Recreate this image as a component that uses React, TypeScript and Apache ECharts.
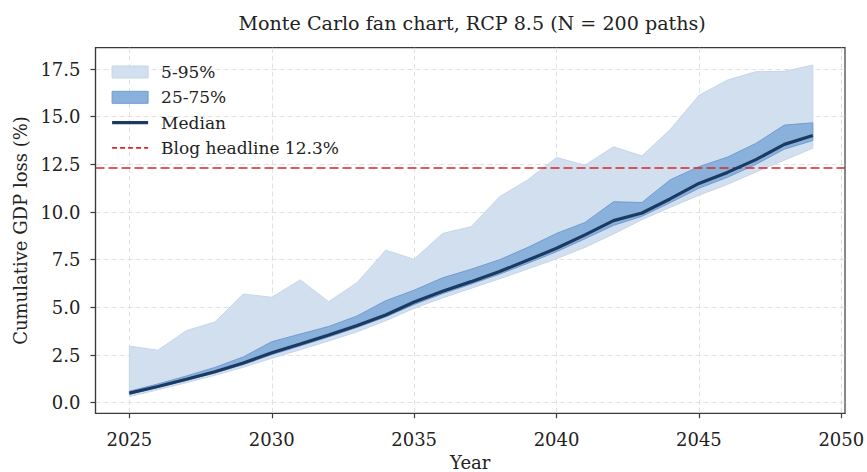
import React, { useEffect, useRef } from "react";
import * as echarts from "echarts";

const years = [2025, 2026, 2027, 2028, 2029, 2030, 2031, 2032, 2033, 2034, 2035, 2036, 2037, 2038, 2039, 2040, 2041, 2042, 2043, 2044, 2045, 2046, 2047, 2048, 2049];
const p5 = [0.32, 0.68, 1.05, 1.44, 1.86, 2.33, 2.78, 3.24, 3.72, 4.3, 4.95, 5.5, 6.0, 6.5, 7.02, 7.55, 8.15, 8.85, 9.6, 10.25, 10.88, 11.45, 12.1, 12.72, 13.35];
const p25 = [0.45, 0.8, 1.17, 1.56, 2.0, 2.52, 2.98, 3.45, 3.95, 4.5, 5.15, 5.72, 6.22, 6.74, 7.32, 7.92, 8.6, 9.3, 9.78, 10.5, 11.25, 11.82, 12.5, 13.3, 13.75];
const median = [0.5, 0.85, 1.23, 1.62, 2.08, 2.62, 3.08, 3.55, 4.05, 4.6, 5.28, 5.85, 6.35, 6.88, 7.48, 8.1, 8.8, 9.55, 9.95, 10.7, 11.5, 12.08, 12.75, 13.55, 14.02];
const p75 = [0.6, 0.98, 1.4, 1.85, 2.4, 3.2, 3.6, 4.0, 4.55, 5.35, 5.9, 6.55, 7.0, 7.5, 8.15, 8.88, 9.45, 10.54, 10.5, 11.7, 12.38, 12.88, 13.6, 14.56, 14.68];
const p95 = [2.97, 2.75, 3.78, 4.23, 5.7, 5.53, 6.44, 5.3, 6.3, 8.0, 7.52, 8.88, 9.23, 10.8, 11.7, 12.86, 12.46, 13.42, 12.94, 14.34, 16.12, 16.92, 17.36, 17.38, 17.71];
const headline = 12.3;
const xTicks = [2025, 2030, 2035, 2040, 2045, 2050];
const yTicks = [0, 2.5, 5, 7.5, 10, 12.5, 15, 17.5];

const FONT = "DejaVu Serif";
const LIGHT = "#d2dfef";
const LIGHT_EDGE = "#c5d6ea";
const DARK = "#8ab0dc";
const DARK_EDGE = "#6f9dd1";
const NAVY = "#1b3a61";
const RED = "#d62728";

function bandSeries(name: string, lo: number[], hi: number[], fill: string, stroke: string, z: number) {
  return {
    type: "custom",
    name,
    z,
    data: years.map((y, i) => [y, lo[i], hi[i]]),
    encode: { x: 0, y: [1, 2] },
    itemStyle: { color: fill },
    renderItem: (params: any, api: any) => {
      if (params.dataIndex !== 0) return null;
      const top = years.map((y, i) => api.coord([y, hi[i]]));
      const bot = years.map((y, i) => api.coord([y, lo[i]])).reverse();
      return {
        type: "polygon",
        shape: { points: top.concat(bot) },
        style: { fill, stroke, lineWidth: 1 },
      };
    },
  };
}

export default function App() {
  const ref = useRef<HTMLDivElement>(null);
  useEffect(() => {
    if (!ref.current) return;
    const chart = echarts.init(ref.current, null, { renderer: "svg" });
    const axisText = { fontFamily: FONT, fontSize: 18, color: "#222" };
    chart.setOption({
      animation: false,
      backgroundColor: "#fff",
      title: {
        text: "Monte Carlo fan chart, RCP 8.5 (N = 200 paths)",
        left: 233.5,
        top: 9,
        textStyle: { fontFamily: FONT, fontSize: 19.1, fontWeight: "normal", color: "#222" },
      },
      grid: {
        left: 95.5,
        right: 22,
        top: 47.7,
        bottom: 58.7,
        outerBoundsMode: "none",
        containLabel: false,
        show: true,
        borderColor: "#3a3a3a",
        borderWidth: 1.2,
        backgroundColor: "transparent",
      },
      legend: {
        orient: "vertical",
        left: 105.5,
        top: 57,
        itemWidth: 36,
        itemHeight: 12,
        itemGap: 5.3,
        textStyle: { fontFamily: FONT, fontSize: 17, color: "#222", lineHeight: 20, padding: [0, 0, 0, 8] },
        data: [
          { name: "5-95%", icon: "rect", itemStyle: { color: LIGHT, borderColor: LIGHT_EDGE, borderWidth: 1 } },
          { name: "25-75%", icon: "rect", itemStyle: { color: DARK, borderColor: DARK_EDGE, borderWidth: 1 } },
          { name: "Median", itemStyle: { opacity: 0 }, lineStyle: { color: NAVY, width: 3.2 } },
          { name: "Blog headline 12.3%", itemStyle: { opacity: 0 }, lineStyle: { color: RED, width: 1.6, type: [5, 3] } },
        ],
      },
      xAxis: {
        type: "value",
        min: 2023.81,
        max: 2050.13,
        name: "Year",
        nameLocation: "middle",
        nameGap: 39,
        nameTextStyle: axisText,
        axisLine: { show: true, onZero: false, lineStyle: { color: "#3a3a3a", width: 1.2 } },
        axisTick: { show: true, customValues: xTicks, length: 5, lineStyle: { color: "#3a3a3a", width: 1.2 } },
        axisLabel: { customValues: xTicks, formatter: (v: number) => String(v), margin: 17, ...axisText },
        splitLine: { show: true, lineStyle: { type: [5, 3], color: "#dedede", width: 0.9 } },
      },
      yAxis: {
        type: "value",
        min: -0.556,
        max: 18.62,
        name: "Cumulative GDP loss (%)",
        nameLocation: "middle",
        nameGap: 66,
        nameTextStyle: axisText,
        axisLine: { show: true, onZero: false, lineStyle: { color: "#3a3a3a", width: 1.2 } },
        axisTick: { show: true, customValues: yTicks, length: 5, lineStyle: { color: "#3a3a3a", width: 1.2 } },
        axisLabel: { customValues: yTicks, formatter: (v: number) => v.toFixed(1), margin: 15, ...axisText },
        splitLine: { show: true, lineStyle: { type: [5, 3], color: "#dedede", width: 0.9 } },
      },
      series: [
        bandSeries("5-95%", p5, p95, LIGHT, LIGHT_EDGE, 2),
        bandSeries("25-75%", p25, p75, DARK, DARK_EDGE, 3),
        {
          type: "line",
          name: "Median",
          z: 5,
          data: years.map((y, i) => [y, median[i]]),
          symbol: "none",
          itemStyle: { color: NAVY },
          lineStyle: { color: NAVY, width: 3.2 },
        },
        {
          type: "line",
          name: "Blog headline 12.3%",
          z: 6,
          data: [],
          symbol: "none",
          itemStyle: { color: RED },
          lineStyle: { color: RED, width: 1.6, type: [9, 4] },
          markLine: {
            silent: true,
            symbol: "none",
            label: { show: false },
            lineStyle: { color: RED, width: 1.6, type: [9, 4] },
            data: [{ yAxis: headline }],
          },
        },
      ],
    });
    return () => chart.dispose();
  }, []);
  return (
    <div
      ref={ref}
      style={{ position: "fixed", left: 0, top: 0, width: 867, height: 472 }}
    />
  );
}
